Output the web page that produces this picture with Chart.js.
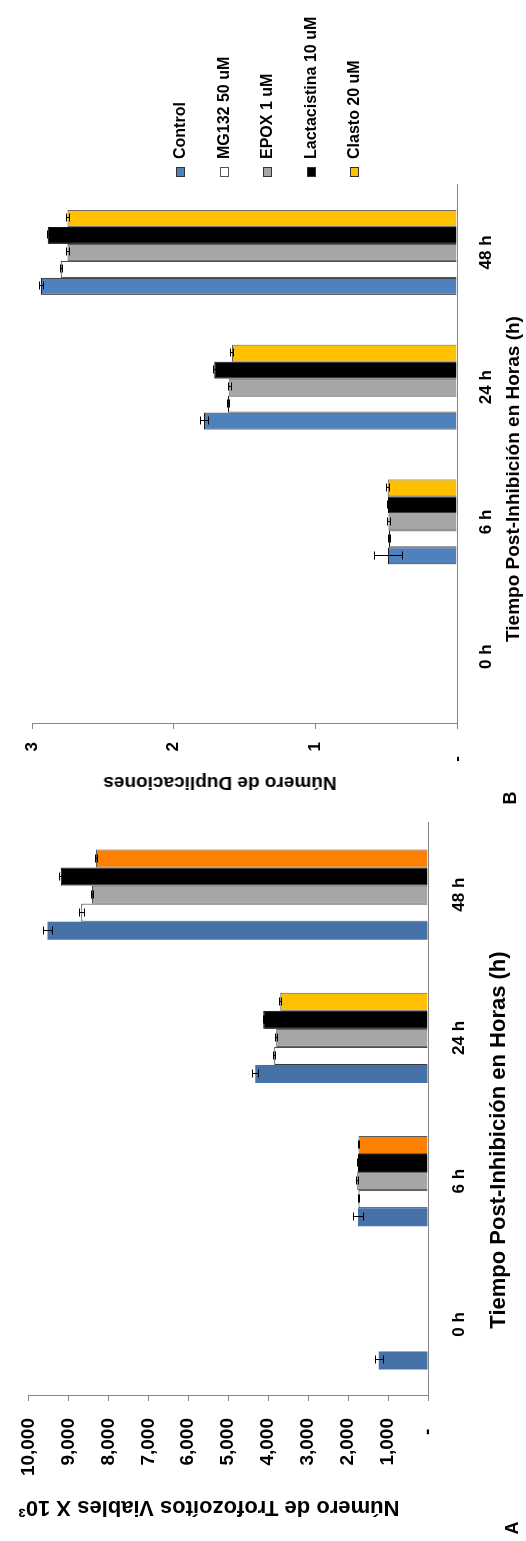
<!DOCTYPE html>
<html>
<head>
<meta charset="utf-8">
<script src="https://cdn.jsdelivr.net/npm/chart.js@4/dist/chart.umd.min.js"></script>
<style>
  html, body { margin: 0; padding: 0; background: #fff; overflow: hidden; }
  body { width: 526px; height: 1541px; position: relative; }
  #fig {
    position: absolute; left: 0; top: 0; width: 1541px; height: 526px;
    transform-origin: 0 0; transform: translate(0, 1541px) rotate(-90deg);
    background: #fff;
  }
  .pane { position: absolute; top: 0; }
  .txt {
    position: absolute; white-space: nowrap; color: #000;
    font-family: 'Liberation Sans', Arial, sans-serif; font-weight: bold;
    transform: translate(-50%, -50%);
  }
  .vert { transform: translate(-50%, -50%) rotate(-90deg); }
  .leg { position: absolute; height: 20px; display: flex; align-items: center;
         font: bold 16px 'Liberation Sans', Arial, sans-serif; color: #000; white-space: nowrap; }
  .leg i { display: inline-block; width: 10px; height: 9px; box-sizing: border-box;
           border: 1px solid #222; margin-right: 8px; }
</style>
</head>
<body>
<div id="fig">
  <div class="pane" style="left:0;width:745px;height:526px"><canvas id="chartA" width="745" height="526"></canvas></div>
  <div class="pane" style="left:745px;width:796px;height:526px"><canvas id="chartB" width="796" height="526"></canvas></div>

  <div class="txt vert" style="left:33px;top:209px;font-size:22px">Número de Trofozoítos Viables X 10³</div>
  <div class="txt" style="left:401px;top:498px;font-size:22px">Tiempo Post-Inhibición en Horas (h)</div>
  <div class="txt" style="left:13px;top:512px;font-size:18px">A</div>

  <div class="txt vert" style="left:758px;top:220px;font-size:19px">Número de Duplicaciones</div>
  <div class="txt" style="left:1062px;top:513px;font-size:19px">Tiempo Post-Inhibición en Horas (h)</div>
  <div class="txt" style="left:743px;top:510px;font-size:18px">B</div>

  <div id="legendB"></div>
</div>

<script>
// Time points after proteasome inhibition
const categories = ['0 h', '6 h', '24 h', '48 h'];
const seriesNames = ['Control', 'MG132 50 uM', 'EPOX 1 uM', 'Lactacistina 10 uM', 'Clasto 20 uM'];

// Panel A: viable trophozoites (x 10^3)
const controlA = [1230, 1750, 4320, 9520];
const mg132A   = [null, 1740, 3850, 8680];
const epoxA    = [null, 1770, 3800, 8410];
const lactaA   = [null, 1750, 4120, 9190];
const clastoA  = [null, 1740, 3700, 8310];
const errControlA = [106, 130, 73, 122];
const errMg132A   = [null, 20, 20, 60];
const errEpoxA    = [null, 30, 20, 20];
const errLactaA   = [null, 20, 20, 40];
const errClastoA  = [null, 20, 30, 30];
const ticksA = [0, 1000, 2000, 3000, 4000, 5000, 6000, 7000, 8000, 9000, 10000];

// Panel B: number of duplications
const controlB = [null, 0.487, 1.786, 2.936];
const mg132B   = [null, 0.480, 1.617, 2.797];
const epoxB    = [null, 0.484, 1.608, 2.750];
const lactaB   = [null, 0.487, 1.714, 2.889];
const clastoB  = [null, 0.489, 1.589, 2.750];
const errControlB = [null, 0.098, 0.025, 0.015];
const errMg132B   = [null, 0.010, 0.010, 0.008];
const errEpoxB    = [null, 0.010, 0.010, 0.008];
const errLactaB   = [null, 0.010, 0.010, 0.008];
const errClastoB  = [null, 0.010, 0.010, 0.008];
const ticksB = [0, 1, 2, 3];

const FONT = "'Liberation Sans', Arial, sans-serif";
const AXIS = '#868686';
Chart.defaults.font.family = FONT;
Chart.defaults.font.weight = 'bold';
Chart.defaults.color = '#000';

// Whisker drawing from each dataset's "errors" array
const errorBars = {
  id: 'errorBars',
  afterDatasetsDraw(chart) {
    const ctx = chart.ctx, ys = chart.scales.y, cap = 4;
    ctx.save();
    ctx.strokeStyle = '#000';
    ctx.lineWidth = 1;
    chart.data.datasets.forEach((ds, di) => {
      if (!ds.errors) return;
      chart.getDatasetMeta(di).data.forEach((bar, i) => {
        const v = ds.data[i], e = ds.errors[i];
        if (v == null || e == null) return;
        const x = Math.round(bar.x) + 0.5;
        const y1 = Math.round(ys.getPixelForValue(v - e)) + 0.5;
        const y2 = Math.round(ys.getPixelForValue(v + e)) + 0.5;
        ctx.beginPath();
        ctx.moveTo(x, y1); ctx.lineTo(x, y2);
        ctx.moveTo(x - cap, y1); ctx.lineTo(x + cap, y1);
        ctx.moveTo(x - cap, y2); ctx.lineTo(x + cap, y2);
        ctx.stroke();
      });
    });
    ctx.restore();
  }
};

function makeChart(id, datasets, opt) {
  return new Chart(document.getElementById(id), {
    type: 'bar',
    data: { labels: categories, datasets },
    plugins: [errorBars],
    options: {
      responsive: false,
      animation: false,
      devicePixelRatio: 1,
      datasets: { bar: { categoryPercentage: 0.63, barPercentage: 1 } },
      layout: { padding: opt.padding },
      plugins: { legend: { display: false }, tooltip: { enabled: false } },
      scales: {
        x: {
          grid: { display: false, drawTicks: false },
          border: { display: true, color: AXIS, width: 1 },
          ticks: { font: { size: 17, weight: 'bold' }, padding: opt.xPad, color: '#000' },
          afterFit: s => { s.height = opt.xHeight; }
        },
        y: {
          min: opt.ticks[0], max: opt.ticks[opt.ticks.length - 1],
          afterBuildTicks: s => { s.ticks = opt.ticks.map(v => ({ value: v })); },
          grid: { display: true, drawOnChartArea: false, drawTicks: true, tickLength: 5, color: AXIS },
          border: { display: true, color: AXIS, width: 1 },
          ticks: { font: { size: opt.yFont, weight: 'bold' }, padding: opt.yPad, color: '#000',
                   callback: v => v === 0 ? opt.zero : v.toLocaleString('en-US') },
          afterFit: s => { s.width = opt.yWidth; }
        }
      }
    }
  });
}

const edge = '#262626';
makeChart('chartA', [
  { label: seriesNames[0], data: controlA, errors: errControlA, backgroundColor: '#4672A8', borderWidth: 0 },
  { label: seriesNames[1], data: mg132A, errors: errMg132A, backgroundColor: '#FFFFFF', borderColor: edge, borderWidth: 1 },
  { label: seriesNames[2], data: epoxA, errors: errEpoxA, backgroundColor: '#A6A6A6', borderColor: '#404040', borderWidth: 1 },
  { label: seriesNames[3], data: lactaA, errors: errLactaA, backgroundColor: '#000000', borderColor: '#000', borderWidth: 1 },
  { label: seriesNames[4], data: clastoA, errors: errClastoA,
    backgroundColor: ['#FF8000', '#FF8000', '#FFC000', '#FF8000'], borderColor: '#5a5a5a', borderWidth: 1 }
], { padding: { left: 0, right: 27, top: 18, bottom: 0 }, xHeight: 98, yWidth: 145,
     xPad: 21, yPad: 17, yFont: 19, ticks: ticksA, zero: '-  ' });

const colorsB = ['#4F81BD', '#FFFFFF', '#A6A6A6', '#000000', '#FFC000'];
const bordersB = ['#1a1a1a', '#1a1a1a', '#404040', '#000000', '#5a5a5a'];
const dataB = [controlB, mg132B, epoxB, lactaB, clastoB];
const errB = [errControlB, errMg132B, errEpoxB, errLactaB, errClastoB];
makeChart('chartB', seriesNames.map((name, k) => ({
  label: name, data: dataB[k], errors: errB[k],
  backgroundColor: colorsB[k], borderColor: bordersB[k], borderWidth: 1
})), { padding: { left: 0, right: 185, top: 32, bottom: 0 }, xHeight: 69, yWidth: 72,
       xPad: 19, yPad: 13, yFont: 17, ticks: ticksB, zero: '-   ' });

// Legend for panel B, built from the same series names and colours
const legendRowsY = [180, 224, 267, 311, 354];
const legend = document.getElementById('legendB');
seriesNames.forEach((name, k) => {
  const row = document.createElement('div');
  row.className = 'leg';
  row.style.left = '1364px';
  row.style.top = (legendRowsY[k] - 10) + 'px';
  const box = document.createElement('i');
  box.style.background = colorsB[k];
  box.style.borderColor = k === 1 ? '#555' : '#333';
  row.appendChild(box);
  row.appendChild(document.createTextNode(name));
  legend.appendChild(row);
});
</script>
</body>
</html>
